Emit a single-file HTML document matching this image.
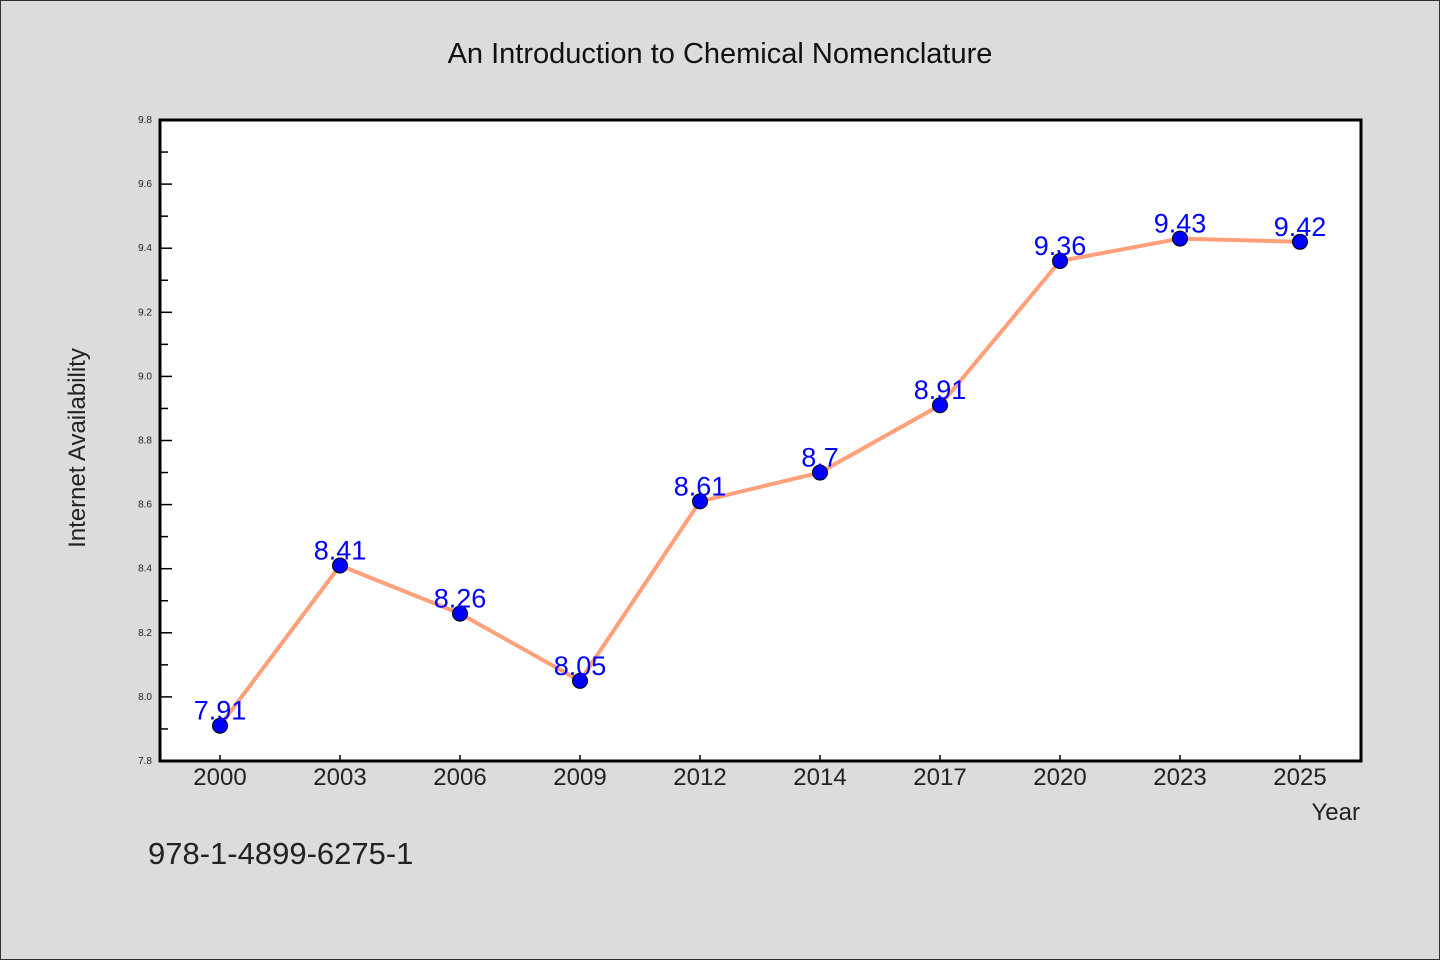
<!DOCTYPE html>
<html><head><meta charset="utf-8"><style>
html,body{margin:0;padding:0;background:#dcdcdc;}
svg{display:block;font-family:"WenQuanYi Zen Hei","Liberation Sans",sans-serif;}
</style></head><body>
<svg id="chart" width="1440" height="960" viewBox="0 0 1440 960">
<rect x="0.5" y="0.5" width="1439" height="959" fill="#dcdcdc" stroke="#333"/>
<text x="720" y="63" text-anchor="middle" font-size="29" fill="#111">An Introduction to Chemical Nomenclature</text>
<rect x="160" y="120" width="1201" height="641" fill="#fff"/>
<g id="yaxis"></g>
<g id="xaxis"></g>
<g id="series"></g>
<path d="M160,120 H1361 V761 H160 Z" fill="none" stroke="#000" stroke-width="3"/>
<text transform="translate(85,448) rotate(-90)" text-anchor="middle" font-size="24" fill="#222">Internet Availability</text>
<text x="1360" y="820" text-anchor="end" font-size="24" fill="#222">Year</text>
<text x="148" y="864" font-size="31" fill="#222">978-1-4899-6275-1</text>
</svg>
<script>
const categories = ["2000","2003","2006","2009","2012","2014","2017","2020","2023","2025"];
const values = [7.91, 8.41, 8.26, 8.05, 8.61, 8.7, 8.91, 9.36, 9.43, 9.42];
const yTicks = [7.8, 8.0, 8.2, 8.4, 8.6, 8.8, 9.0, 9.2, 9.4, 9.6, 9.8];
const yMin = 7.8, yMax = 9.8;
const NS = "http://www.w3.org/2000/svg";
const X0 = 160, X1 = 1360, Y0 = 761, Y1 = 120;
function xPos(i){ return X0 + (X1 - X0) / categories.length * (i + 0.5); }
function yPos(v){ return Y0 - (v - yMin) / (yMax - yMin) * (Y0 - Y1); }
function mk(tag, attrs, parent){ const e = document.createElementNS(NS, tag); for (const k in attrs) e.setAttribute(k, attrs[k]); parent.appendChild(e); return e; }
const ya = document.getElementById("yaxis"), xa = document.getElementById("xaxis"), sg = document.getElementById("series");
yTicks.forEach((t, i) => {
  const y = yPos(t);
  const ln = mk("line", {x1: 160, x2: 172, y1: y, y2: y, stroke: "#000", "stroke-width": 1.5}, ya);
  
  
  const tx = mk("text", {x: 152, y: y + 3, "text-anchor": "end", "font-size": 10, fill: "#222"}, ya);
  tx.textContent = t.toFixed(1);
  
  
  if (i < yTicks.length - 1) {
    const ym = yPos(t + 0.1);
    const mn = mk("line", {x1: 160, x2: 168, y1: ym, y2: ym, stroke: "#000", "stroke-width": 1.5}, ya);
    
    
  }
});
categories.forEach((c, i) => {
  const x = xPos(i);
  const ln = mk("line", {x1: x, x2: x, y1: 761, y2: 755, stroke: "#000", "stroke-width": 1.5}, xa);
  
  
  const tx = mk("text", {x: x, y: 785, "text-anchor": "middle", "font-size": 24, fill: "#222"}, xa);
  tx.textContent = c;
  
  
});
const pts = values.map((v, i) => xPos(i) + "," + yPos(v)).join(" ");
const pl = mk("polyline", {points: pts, fill: "none", stroke: "#ffa07a", "stroke-width": 4, "stroke-linejoin": "round"}, sg);


values.forEach((v, i) => {
  const c = mk("circle", {cx: xPos(i), cy: yPos(v), r: 7.5, fill: "#0000ff", stroke: "#000", "stroke-width": 1}, sg);
  
  
});
values.forEach((v, i) => {
  const t = mk("text", {x: xPos(i), y: yPos(v) - 6, "text-anchor": "middle", "font-size": 27, fill: "#0000ff"}, sg);
  t.textContent = String(v);
  
  
});
</script>
</body></html>
